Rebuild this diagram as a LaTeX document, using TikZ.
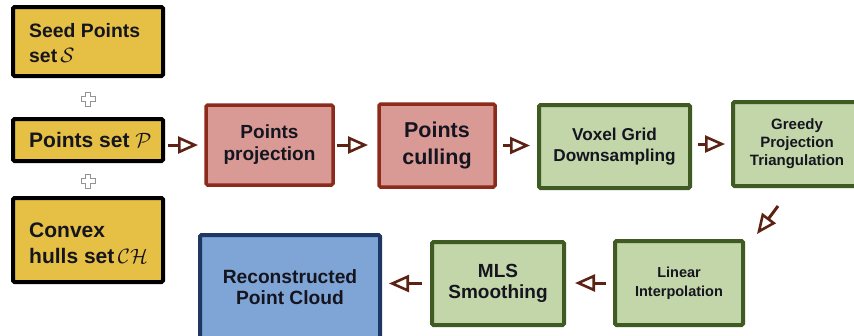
\documentclass[tikz,border=0pt]{standalone}
\usepackage{fontspec}
\setmainfont{Liberation Sans}
\usetikzlibrary{arrows.meta}
\definecolor{yfill}{HTML}{E5C044}
\definecolor{rfill}{HTML}{D99A96}
\definecolor{rdraw}{HTML}{8C2B1C}
\definecolor{gfill}{HTML}{C2D6A9}
\definecolor{gdraw}{HTML}{3F5A22}
\definecolor{bfill}{HTML}{7FA4D6}
\definecolor{bdraw}{HTML}{1F3763}
\definecolor{arr}{HTML}{5C2314}
\definecolor{txt}{HTML}{15151F}
\tikzset{
  box/.style={rectangle, rounded corners=1.5pt, outer sep=0pt, inner sep=0pt, align=center, text=txt, font=\bfseries},
  ybox/.style={box, fill=yfill, draw=black, line width=4pt, minimum width=150pt},
  ytext/.style={anchor=west, align=left, inner sep=0pt, text=txt},
  rbox/.style={box, fill=rfill, draw=rdraw, line width=3.5pt},
  gbox/.style={box, fill=gfill, draw=gdraw, line width=4pt},
  bbox/.style={box, fill=bfill, draw=bdraw, line width=4pt},
  flow/.style={draw=arr, line width=3pt, -{Triangle[open, length=20pt, width=17pt, line width=2.6pt]}},
  plussign/.style={draw=gray!85, fill=white, line width=1pt}
}
\newcommand{\plusat}[2]{%
  \draw[plussign] (#1-2.5,#2-7) -- (#1+2.5,#2-7) -- (#1+2.5,#2-2.5) -- (#1+7,#2-2.5) -- (#1+7,#2+2.5) -- (#1+2.5,#2+2.5) -- (#1+2.5,#2+7) -- (#1-2.5,#2+7) -- (#1-2.5,#2+2.5) -- (#1-7,#2+2.5) -- (#1-7,#2-2.5) -- (#1-2.5,#2-2.5) -- cycle;}
\begin{document}
\begin{tikzpicture}[x=1pt,y=-1pt]
\useasboundingbox (0,0) rectangle (854,335);
% left boxes
\node[ybox, minimum height=69pt] (seed) at (88,41.5) {};
\node[ytext, font=\bfseries\fontsize{19.4}{25}\selectfont] (seedtxt) at ([xshift=16pt,yshift=-2pt]seed.west) {Seed Points\\set\,$\mathcal{S}$};
\node[ybox, minimum height=42pt] (pset) at (88,140) {};
\node[ytext, font=\bfseries\fontsize{21}{25}\selectfont] (psettxt) at ([xshift=16pt]pset.west) {Points set $\mathcal{P}$};
\node[ybox, minimum height=84pt] (hull) at (88,240) {};
\node[ytext, font=\bfseries\fontsize{21}{26}\selectfont] (hulltxt) at ([xshift=16pt,yshift=-3pt]hull.west) {Convex\\hulls set\,$\mathcal{CH}$};
\plusat{88}{99}
\plusat{88}{181}
% top row
\node[rbox, minimum width=127pt, minimum height=80pt, font=\bfseries\fontsize{19}{22}\selectfont] (proj) at (269.5,145) {Points\\projection};
\node[rbox, minimum width=116pt, minimum height=83pt, font=\bfseries\fontsize{21.5}{27}\selectfont] (cull) at (437,145.5) {Points\\culling};
\node[gbox, minimum width=151pt, minimum height=83pt, font=\bfseries\fontsize{17.2}{21}\selectfont] (voxel) at (614.5,146.5) {Voxel Grid\\Downsampling};
\node[gbox, minimum width=128pt, minimum height=84pt, font=\bfseries\fontsize{15}{18}\selectfont] (greedy) at (797,144) {Greedy\\Projection\\Triangulation};
% bottom row
\node[gbox, minimum width=128pt, minimum height=84pt, font=\bfseries\fontsize{14.5}{19}\selectfont] (lin) at (679,283) {Linear\\Interpolation};
\node[gbox, minimum width=132pt, minimum height=83pt, font=\bfseries\fontsize{19}{21}\selectfont] (mls) at (498,283.5) {MLS\\Smoothing};
\node[bbox, minimum width=180pt, minimum height=104pt, font=\bfseries\fontsize{19.2}{21}\selectfont] (recon) at (290,287) {Reconstructed\\Point Cloud};
% connectors
\draw[flow, shorten <=5pt, shorten >=8pt] (pset.east |- proj.west) -- (proj.west);
\draw[flow, shorten <=4pt, shorten >=11pt] (proj.east) -- (proj.east -| cull.west);
\draw[flow, shorten <=8pt, shorten >=9pt] (cull.east) -- (cull.east -| voxel.west);
\draw[flow, shorten <=8pt, shorten >=8pt] (voxel.east |- greedy.west) -- (greedy.west);
\coordinate (dstart) at (778,206);
\coordinate (dend) at (757,234);
\draw[flow] (dstart) -- (dend);
\draw[flow, shorten <=9pt, shorten >=11pt] (lin.west) -- (lin.west -| mls.east);
\draw[flow, shorten <=10pt, shorten >=9pt] (mls.west) -- (mls.west -| recon.east);
\end{tikzpicture}
\end{document}
